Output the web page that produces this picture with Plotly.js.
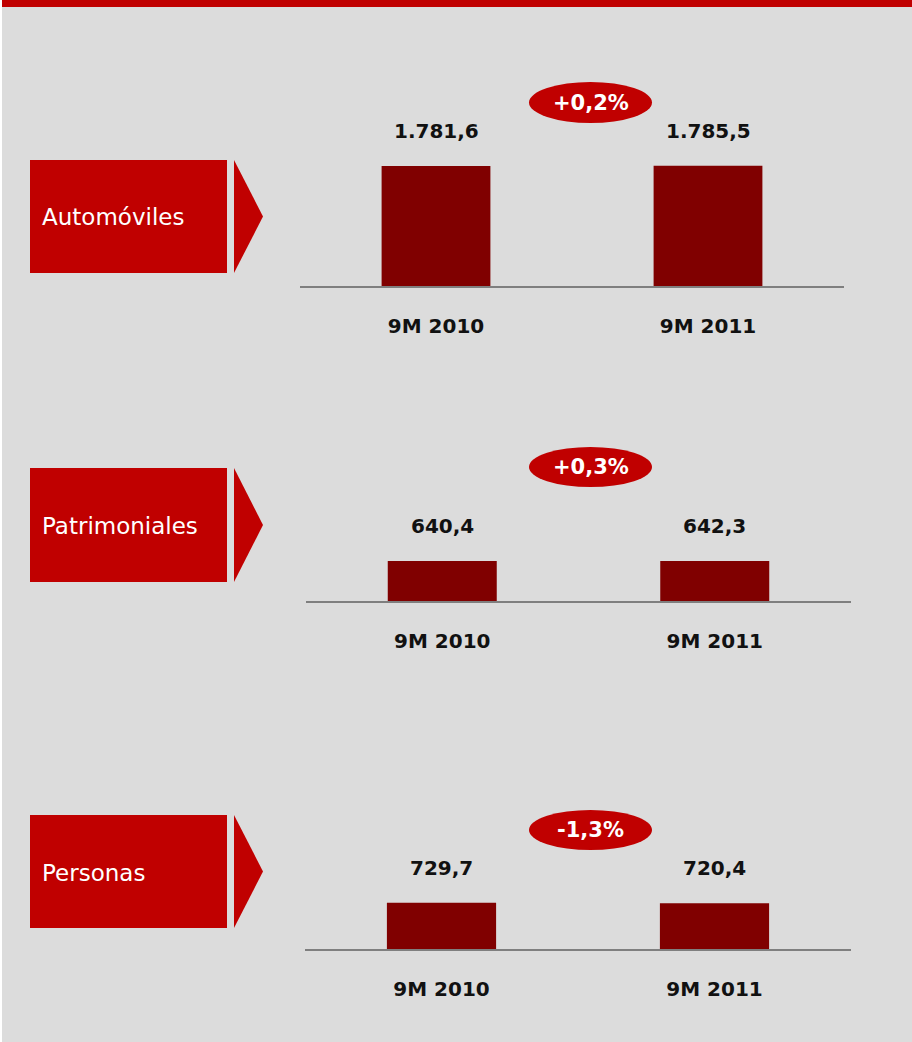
<!DOCTYPE html>
<html>
<head>
<meta charset="utf-8">
<script src="https://cdn.plot.ly/plotly-3.0.1.min.js"></script>
<style>
html,body{margin:0;padding:0;background:#dcdcdc;}
#chart{width:912px;height:1042px;}
</style>
</head>
<body>
<div id="chart"></div>
<script>
// ---- data ----
const categories = ['9M 2010', '9M 2011'];
const segments = ['Automóviles', 'Patrimoniales', 'Personas'];
const automoviles = [1781.6, 1785.5];
const patrimoniales = [640.4, 642.3];
const personas = [729.7, 720.4];
const changes = [0.2, 0.3, -1.3];

// ---- helpers ----
const W = 912, H = 1042;
const px = x => x / W;
const py = y => 1 - y / H;
function fmtNum(v) {
  const parts = v.toFixed(1).split('.');
  const int = parts[0].replace(/\B(?=(\d{3})+(?!\d))/g, '.');
  return int + ',' + parts[1];
}
function fmtPct(v) {
  return (v > 0 ? '+' : '') + v.toFixed(1).replace('.', ',') + '%';
}

const RED = '#c00000', DARK = '#800000', BG = '#dcdcdc';
const seriesList = [automoviles, patrimoniales, personas];

// layout geometry (pixels)
const panels = [
  {xl: 300, xr: 844, base: 286, top: 60,  rmax: 3355, box: [30, 160, 227, 273], badge: [529, 82, 652, 123]},
  {xl: 306, xr: 851, base: 601, top: 400, rmax: 3221, box: [30, 468, 227, 582], badge: [529, 447, 652, 487]},
  {xl: 305, xr: 851, base: 949, top: 750, rmax: 3139, box: [30, 815, 227, 928], badge: [529, 810, 652, 850]}
];

const data = [];
const layout = {
  width: W, height: H,
  margin: {l: 0, r: 0, t: 0, b: 0},
  paper_bgcolor: BG, plot_bgcolor: 'rgba(0,0,0,0)',
  showlegend: false,
  shapes: [], annotations: []
};

// top red strip
layout.shapes.push({type: 'rect', xref: 'paper', yref: 'paper', x0: px(2), x1: 1, y0: py(7), y1: 1, fillcolor: RED, line: {width: 0}, layer: 'below'});
layout.shapes.push({type: 'rect', xref: 'paper', yref: 'paper', x0: 0, x1: px(2), y0: 0, y1: 1, fillcolor: '#ffffff', line: {width: 0}, layer: 'below'});

panels.forEach((p, i) => {
  const n = i === 0 ? '' : String(i + 1);
  const xa = 'x' + n, ya = 'y' + n;
  data.push({
    type: 'bar', x: categories, y: seriesList[i], xaxis: xa, yaxis: ya,
    marker: {color: DARK, line: {width: 0}}, width: 0.4, hoverinfo: 'skip'
  });
  layout['xaxis' + n] = {
    domain: [px(p.xl), px(p.xr)], anchor: ya, type: 'category',
    range: [-0.5, 1.5], fixedrange: true,
    showline: true, linecolor: '#7f7f7f', linewidth: 2,
    showgrid: false, zeroline: false, ticks: '', ticklabelstandoff: 21,
    tickfont: {family: 'DejaVu Sans', size: 20, color: '#111111', weight: 'bold'}
  };
  layout['yaxis' + n] = {
    domain: [py(p.base), py(p.top)], anchor: xa, range: [0, p.rmax],
    visible: false, fixedrange: true
  };
  // value labels
  seriesList[i].forEach((v, j) => {
    layout.annotations.push({
      xref: xa, yref: ya, x: categories[j], y: v, yshift: 35,
      text: fmtNum(v), showarrow: false, xanchor: 'center', yanchor: 'middle',
      font: {family: 'DejaVu Sans', size: 20, color: '#111111', weight: 'bold'}
    });
  });
  // label box + arrow
  const b = p.box;
  layout.shapes.push({type: 'rect', xref: 'paper', yref: 'paper', x0: px(b[0]), x1: px(b[2]), y0: py(b[3]), y1: py(b[1]), fillcolor: RED, line: {width: 0}});
  const mid = (b[1] + b[3]) / 2;
  layout.shapes.push({type: 'path', xref: 'paper', yref: 'paper',
    path: `M ${px(234)},${py(b[1])} L ${px(263)},${py(mid)} L ${px(234)},${py(b[3])} Z`,
    fillcolor: RED, line: {width: 0}});
  layout.annotations.push({
    xref: 'paper', yref: 'paper', x: px(40), y: py(mid + 1), xanchor: 'left', yanchor: 'middle',
    text: segments[i], showarrow: false,
    font: {family: 'DejaVu Sans', size: 23, color: '#ffffff'}
  });
  // badge
  const e = p.badge;
  layout.shapes.push({type: 'circle', xref: 'paper', yref: 'paper', x0: px(e[0]), x1: px(e[2]), y0: py(e[3]), y1: py(e[1]), fillcolor: RED, line: {width: 0}});
  layout.annotations.push({
    xref: 'paper', yref: 'paper', x: px((e[0] + e[2]) / 2), y: py((e[1] + e[3]) / 2),
    xanchor: 'center', yanchor: 'middle', text: fmtPct(changes[i]), showarrow: false,
    font: {family: 'DejaVu Sans', size: 21, color: '#ffffff', weight: 'bold'}
  });
});

Plotly.newPlot('chart', data, layout, {displayModeBar: false, staticPlot: true});
</script>
</body>
</html>
